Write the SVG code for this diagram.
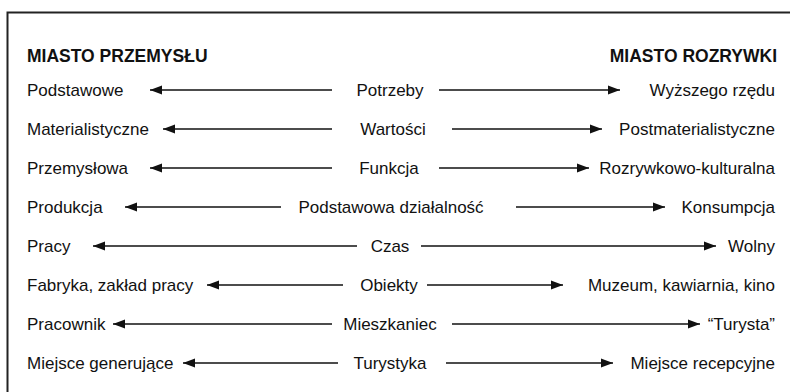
<svg xmlns="http://www.w3.org/2000/svg" width="790" height="392" viewBox="0 0 790 392">
<style>
text{font-family:"Liberation Sans",Arial,sans-serif;font-size:17px;fill:#111}
.h{font-weight:bold;font-size:17.5px}
.l{text-anchor:start}
.c{text-anchor:middle}
.r{text-anchor:end}
.a{stroke:#111;stroke-width:1.4;fill:none;marker-end:url(#ah)}
</style>
<defs>
<marker id="ah" markerUnits="userSpaceOnUse" markerWidth="13" markerHeight="10" refX="12" refY="5" orient="auto">
<path d="M0,0.5 L12,5 L0,9.5 Z" fill="#111"/>
</marker>
</defs>
<rect x="0" y="0" width="790" height="392" fill="#fff"/>
<rect x="7.5" y="12.5" width="800" height="400" fill="none" stroke="#222" stroke-width="2"/>
<g id="head-left"><text class="h l" x="27" y="62">MIASTO PRZEMYSŁU</text></g>
<g id="head-right"><text class="h r" x="777" y="62">MIASTO ROZRYWKI</text></g>
<g id="r1-l"><text class="l" x="27" y="96">Podstawowe</text></g>
<g id="r1-c"><text class="c" x="390" y="96">Potrzeby</text></g>
<g id="r1-r"><text class="r" x="775" y="96">Wyższego rzędu</text></g>
<g id="r2-l"><text class="l" x="27" y="135">Materialistyczne</text></g>
<g id="r2-c"><text class="c" x="393" y="135">Wartości</text></g>
<g id="r2-r"><text class="r" x="775" y="135">Postmaterialistyczne</text></g>
<g id="r3-l"><text class="l" x="27" y="174">Przemysłowa</text></g>
<g id="r3-c"><text class="c" x="389" y="174">Funkcja</text></g>
<g id="r3-r"><text class="r" x="775" y="174">Rozrywkowo-kulturalna</text></g>
<g id="r4-l"><text class="l" x="27" y="213">Produkcja</text></g>
<g id="r4-c"><text class="c" x="391" y="213">Podstawowa działalność</text></g>
<g id="r4-r"><text class="r" x="775" y="213">Konsumpcja</text></g>
<g id="r5-l"><text class="l" x="27" y="252">Pracy</text></g>
<g id="r5-c"><text class="c" x="390" y="252">Czas</text></g>
<g id="r5-r"><text class="r" x="775" y="252">Wolny</text></g>
<g id="r6-l"><text class="l" x="27" y="291">Fabryka, zakład pracy</text></g>
<g id="r6-c"><text class="c" x="389" y="291">Obiekty</text></g>
<g id="r6-r"><text class="r" x="775" y="291">Muzeum, kawiarnia, kino</text></g>
<g id="r7-l"><text class="l" x="27" y="330">Pracownik</text></g>
<g id="r7-c"><text class="c" x="390" y="330">Mieszkaniec</text></g>
<g id="r7-r"><text class="r" x="775" y="330">“Turysta”</text></g>
<g id="r8-l"><text class="l" x="27" y="369">Miejsce generujące</text></g>
<g id="r8-c"><text class="c" x="390" y="369">Turystyka</text></g>
<g id="r8-r"><text class="r" x="775" y="369">Miejsce recepcyjne</text></g>
<g id="connectors">
<path class="a" d="M332,90 H150"/><path class="a" d="M439,90 H620"/>
<path class="a" d="M332,129 H163"/><path class="a" d="M452,129 H602"/>
<path class="a" d="M332,168 H150"/><path class="a" d="M439,168 H589"/>
<path class="a" d="M281,207 H125"/><path class="a" d="M516,207 H665"/>
<path class="a" d="M357,246 H93"/><path class="a" d="M421,246 H716"/>
<path class="a" d="M343,285 H207"/><path class="a" d="M427,285 H563"/>
<path class="a" d="M332,324 H113"/><path class="a" d="M452,324 H700"/>
<path class="a" d="M338,363 H183"/><path class="a" d="M446,363 H613"/>
</g>
</svg>
